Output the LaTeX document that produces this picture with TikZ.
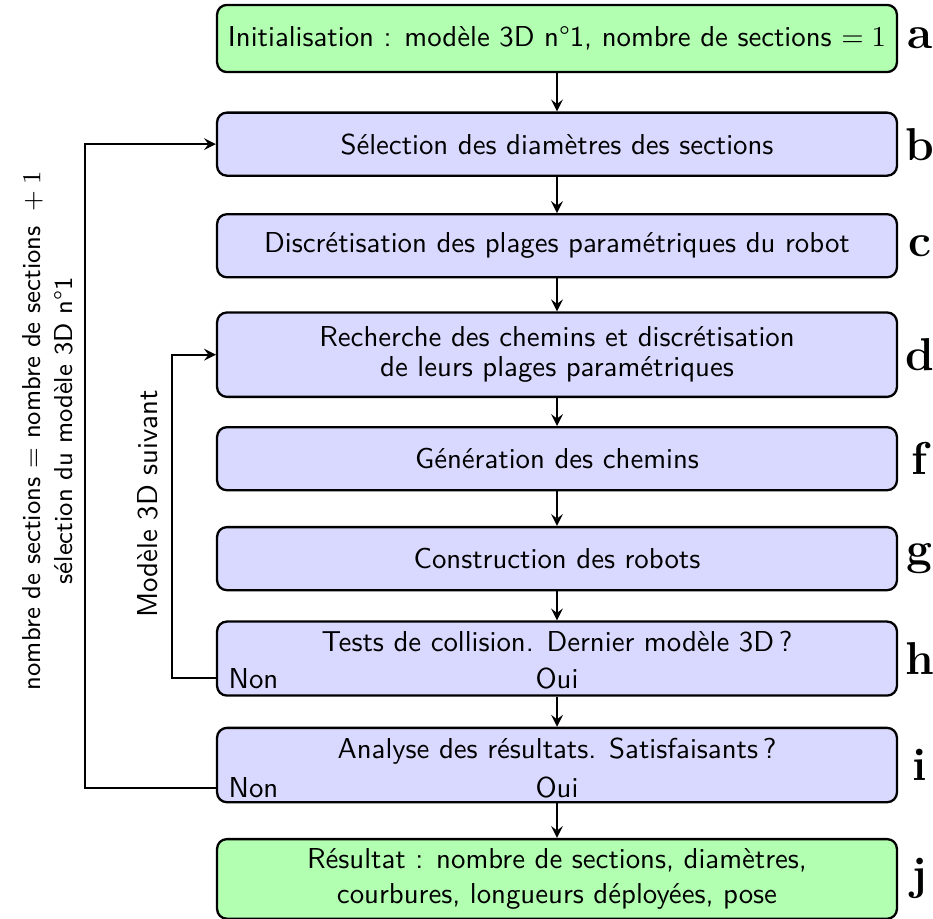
\documentclass[tikz,border=0pt]{standalone}
\usepackage{fontspec}
\usetikzlibrary{positioning}

\begin{document}
\begin{tikzpicture}[
  stepblock/.style={rectangle, draw, thick, rounded corners=1.2mm, fill=blue!15,
    minimum width=8.3cm, minimum height=0.77cm, font=\sffamily, align=center},
  endblock/.style={stepblock, fill=green!30},
  answer/.style={font=\sffamily, inner sep=1pt},
  tag/.style={font=\rmfamily\fontsize{16}{19}\selectfont\bfseries},
  arrow/.style={->, thick, >=stealth}
]
  \useasboundingbox (0,0) rectangle (11.39,-11.21);

  % The steps of the method
  \node[endblock, minimum height=0.82cm] (a) at (6.8,-0.47) {Initialisation : modèle 3D n°1, nombre de sections $= 1$};
  \node[stepblock] (b) at (6.8,-1.76) {Sélection des diamètres des sections};
  \node[stepblock] (c) at (6.8,-3.00) {Discrétisation des plages paramétriques du robot};
  \node[stepblock, minimum height=1.03cm] (d) at (6.8,-4.33) {Recherche des chemins et discrétisation\\[-1.5pt]de leurs plages paramétriques};
  \node[stepblock] (f) at (6.8,-5.60) {Génération des chemins};
  \node[stepblock] (g) at (6.8,-6.82) {Construction des robots};
  \node[stepblock] (h) at (6.8,-8.04) {Tests de collision. Dernier modèle 3D\,?\\\mbox{}};
  \node[stepblock] (i) at (6.8,-9.34) {Analyse des résultats. Satisfaisants\,?\\\mbox{}};
  \node[endblock, minimum height=0.83cm] (j) at (6.8,-10.73) {Résultat : nombre de sections, diamètres,\\courbures, longueurs déployées, pose};

  % Answers of the two tests
  \node[answer, anchor=west] (hno) at (2.75,-8.28) {Non};
  \node[answer] (hyes) at (6.8,-8.28) {Oui};
  \node[answer, anchor=west] (ino) at (2.75,-9.62) {Non};
  \node[answer] (iyes) at (6.8,-9.62) {Oui};

  % Letters of the steps
  \node[tag] (ta) at (11.23,-0.47) {a};
  \node[tag] (tb) at (11.23,-1.76) {b};
  \node[tag] (tc) at (11.23,-3.00) {c};
  \node[tag] (td) at (11.23,-4.33) {d};
  \node[tag] (tf) at (11.23,-5.60) {f};
  \node[tag] (tg) at (11.23,-6.82) {g};
  \node[tag] (th) at (11.23,-8.04) {h};
  \node[tag] (ti) at (11.23,-9.34) {i};
  \node[tag] (tj) at (11.23,-10.73) {j};

  % Main flow
  \draw[arrow] (a) -- (b);
  \draw[arrow] (b) -- (c);
  \draw[arrow] (c) -- (d);
  \draw[arrow] (d) -- (f);
  \draw[arrow] (f) -- (g);
  \draw[arrow] (g) -- (h);
  \draw[arrow] (h) -- (i);
  \draw[arrow] (i) -- (j);

  % Loops back
  \coordinate (inner) at (2.10,0);
  \coordinate (outer) at (1.04,0);
  \draw[arrow] (h.west |- hno) -- (inner |- hno) -- (inner |- d.west) -- (d.west);
  \draw[arrow] (i.west |- ino) -- (outer |- ino) -- (outer |- b.west) -- (b.west);

  % Loop labels
  \node[font=\sffamily, rotate=90] (nextmodel) at (1.80,-6.15) {Modèle 3D suivant};
  \node[font=\sffamily\small, rotate=90, align=center] (moresections) at (0.58,-5.26) {nombre de sections $=$ nombre de sections ${}+1$\\sélection du modèle 3D n°1};
\end{tikzpicture}
\end{document}
